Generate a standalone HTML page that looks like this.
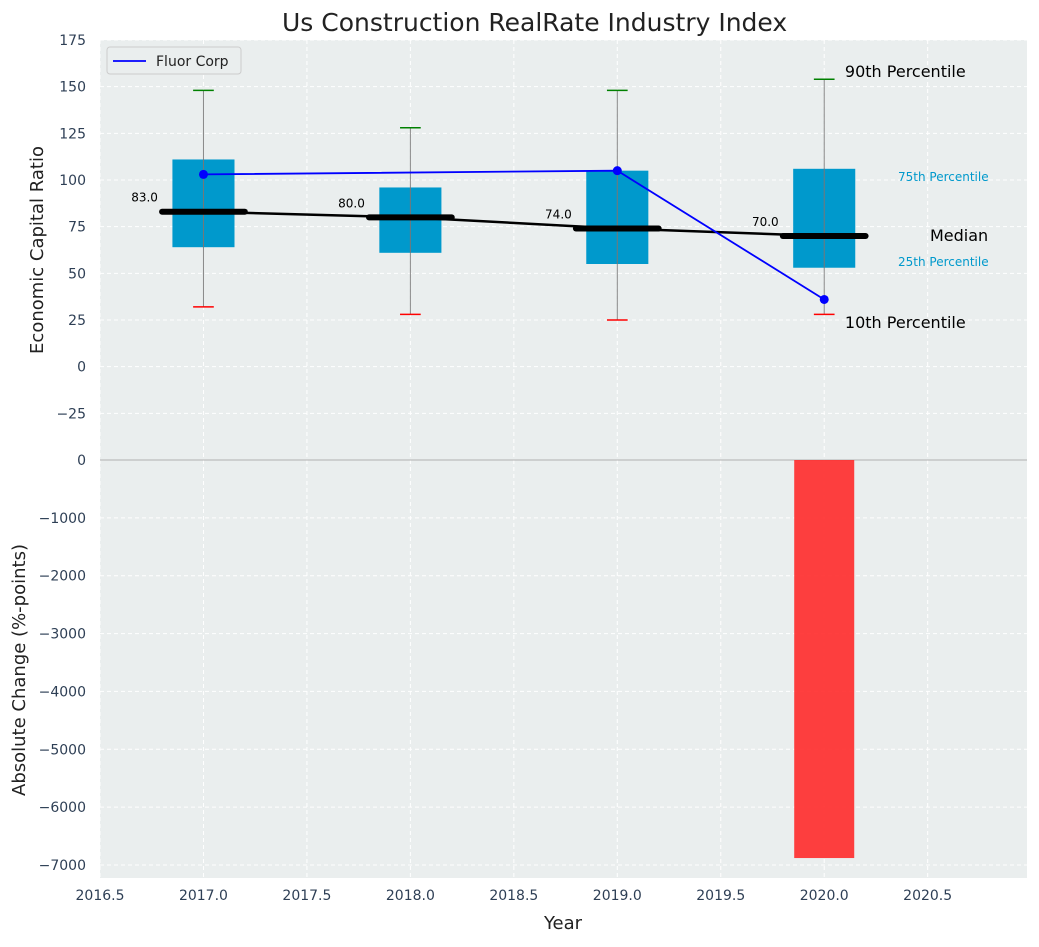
<!DOCTYPE html>
<html><head><meta charset="utf-8"><style>
body{margin:0;background:#fff;font-family:"Liberation Sans","DejaVu Sans",sans-serif}
</style></head><body>
<svg id="c" width="1039" height="942" xmlns="http://www.w3.org/2000/svg" font-family="DejaVu Sans, Liberation Sans, sans-serif"></svg>
<script>
const years=[2017,2018,2019,2020];
const p10=[32,28,25,28];
const q1=[64,61,55,53];
const med=[83,80,74,70];
const q3=[111,96,105,106];
const p90=[148,128,148,154];
const fluor=[103,null,105,36];
const change=[null,null,null,-6880];
const xTicks=[2016.5,2017.0,2017.5,2018.0,2018.5,2019.0,2019.5,2020.0,2020.5];
const yTopTicks=[-25,0,25,50,75,100,125,150,175];
const yBotTicks=[0,-1000,-2000,-3000,-4000,-5000,-6000,-7000];
const NS='http://www.w3.org/2000/svg';
const svg=document.getElementById('c');
function el(t,a,p){const e=document.createElementNS(NS,t);for(const k in a)e.setAttribute(k,a[k]);(p||svg).appendChild(e);return e;}
const L=100,R=1027,T1=40,B1=460,T2=460,B2=878;
const xs=v=>L+(v-2016.5)*(R-L)/(2020.98-2016.5);
const ys=v=>T1+(175-v)*(B1-T1)/225;
const yb=v=>T2+(0-v)*(B2-T2)/7225;
let r=el('rect',{x:L,y:T1,width:R-L,height:B1-T1,fill:'#eaeeee'});
r=el('rect',{x:L,y:T2,width:R-L,height:B2-T2,fill:'#eaeeee'});
xTicks.forEach(t=>{el('line',{x1:xs(t),x2:xs(t),y1:T1,y2:B2,stroke:'#fff','stroke-dasharray':'4,3','stroke-width':1});
 const tx=el('text',{x:xs(t),y:B2+22,'text-anchor':'middle','font-size':14,fill:'#2e3f55'});tx.textContent=t.toFixed(1);
 });
yTopTicks.forEach(t=>{el('line',{x1:L,x2:R,y1:ys(t),y2:ys(t),stroke:'#fff','stroke-dasharray':'4,3'});
 const tx=el('text',{x:L-14,y:ys(t)+5,'text-anchor':'end','font-size':14,fill:'#2e3f55'});tx.textContent=t<0?'\u2212'+(-t):t;
 });
yBotTicks.forEach(t=>{el('line',{x1:L,x2:R,y1:yb(t),y2:yb(t),stroke:'#fff','stroke-dasharray':'4,3'});
 const tx=el('text',{x:L-14,y:yb(t)+5,'text-anchor':'end','font-size':14,fill:'#2e3f55'});tx.textContent=t<0?'\u2212'+(-t):t;
 });
el('line',{x1:L,x2:R,y1:T2,y2:T2,stroke:'#b0b0b0','stroke-width':1});
years.forEach((y,i)=>{
 const g=el('g',{});
 el('line',{x1:xs(y),x2:xs(y),y1:ys(p90[i]),y2:ys(p10[i]),stroke:'#888','stroke-width':1},g);
 el('rect',{x:xs(y-0.15),y:ys(q3[i]),width:xs(y+0.15)-xs(y-0.15),height:ys(q1[i])-ys(q3[i]),fill:'#0099cc'},g);
 el('line',{x1:xs(y),x2:xs(y),y1:ys(q3[i]),y2:ys(q1[i]),stroke:'#777','stroke-width':1},g);
 el('line',{x1:xs(y-0.05),x2:xs(y+0.05),y1:ys(p90[i]),y2:ys(p90[i]),stroke:'green','stroke-width':1.5},g);
 el('line',{x1:xs(y-0.05),x2:xs(y+0.05),y1:ys(p10[i]),y2:ys(p10[i]),stroke:'red','stroke-width':1.5},g);
 el('line',{x1:xs(y-0.2),x2:xs(y+0.2),y1:ys(med[i]),y2:ys(med[i]),stroke:'#000','stroke-width':6,'stroke-linecap':'round'},g);
 const t=el('text',{x:xs(y-0.22),y:ys(med[i])-10,'text-anchor':'end','font-size':12,fill:'#000'},g);t.textContent=med[i].toFixed(1);
});
let mp=el('polyline',{points:years.map((y,i)=>xs(y)+','+ys(med[i])).join(' '),fill:'none',stroke:'#000','stroke-width':2.5});

const fp=years.map((y,i)=>fluor[i]==null?null:[xs(y),ys(fluor[i])]).filter(p=>p);
let fl=el('polyline',{points:fp.map(p=>p.join(',')).join(' '),fill:'none',stroke:'#0000ff','stroke-width':1.8});

fp.forEach(p=>{const c=el('circle',{cx:p[0],cy:p[1],r:4.5,fill:'#0000ff'});});
years.forEach((y,i)=>{if(change[i]==null)return;
 const b=el('rect',{x:xs(y-0.145),y:yb(0),width:xs(y+0.145)-xs(y-0.145),height:yb(change[i])-yb(0),fill:'#ff2a2a','fill-opacity':0.9});
 });
const lastI=3;
function ann(txt,x,y,size,col,name){const t=el('text',{x:x,y:y,'font-size':size,fill:col});t.textContent=txt;}
ann('90th Percentile',xs(2020.1),ys(p90[lastI])-2,16,'#000','label-90th');
ann('10th Percentile',xs(2020.1),328,16,'#000','label-10th');
ann('Median',930,241,16,'#000','label-median');
ann('75th Percentile',898,181,12,'#0099cc','label-75th');
ann('25th Percentile',898,266,12,'#0099cc','label-25th');
const lg=el('g',{});
el('rect',{x:107,y:47,width:134,height:27,rx:3,fill:'#eaeeee',stroke:'#ccc'},lg);
el('line',{x1:113,x2:146,y1:61,y2:61,stroke:'#0000ff','stroke-width':1.8},lg);
const lt=el('text',{x:156,y:66,'font-size':14,fill:'#222'},lg);lt.textContent='Fluor Corp';
ann('Us Construction RealRate Industry Index',282,31,25,'#222','chart-title');
const xt=el('text',{x:563,y:929,'text-anchor':'middle','font-size':18,fill:'#222'});xt.textContent='Year';
let yt=el('text',{x:0,y:0,'text-anchor':'middle','font-size':18,fill:'#222',transform:'translate(43,250) rotate(-90)'});yt.textContent='Economic Capital Ratio';
yt=el('text',{x:0,y:0,'text-anchor':'middle','font-size':18,fill:'#222',transform:'translate(25,670) rotate(-90)'});yt.textContent='Absolute Change (%-points)';
</script>
</body></html>
